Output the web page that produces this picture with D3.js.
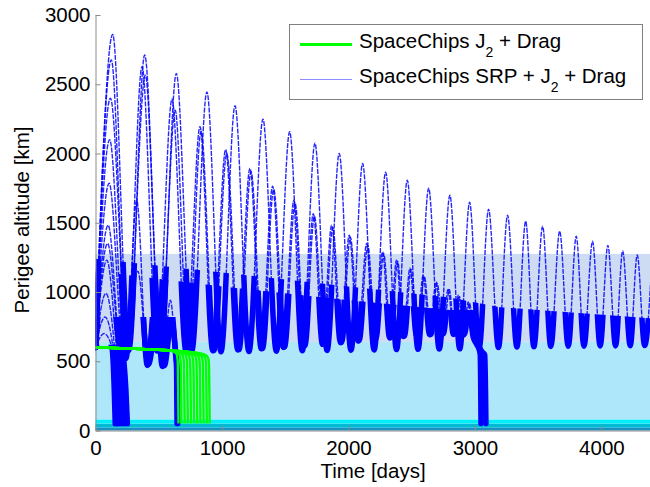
<!DOCTYPE html>
<html>
<head>
<meta charset="utf-8">
<title>Perigee altitude</title>
<script src="https://cdn.jsdelivr.net/npm/d3@7"></script>
<style>
    body { margin: 0; background: #fff; }
    svg { display: block; }
</style>
</head>
<body>
<div id="chart"></div>
<script>
// axis ticks
var xTicks = [0, 1000, 2000, 3000, 4000];
var yTicks = [0, 500, 1000, 1500, 2000, 2500, 3000];

// atmosphere layers behind the runs, km
var layerFrom = [0, 20, 50, 80, 640];
var layerTo = [20, 50, 80, 640, 1275];
var layerColors = ["#1b8ec3", "#00b9d2", "#00eefa", "#aee7fa", "#cddcf2"];

// below these altitudes the dense samples merge into a thick trace
var thickT = [0, 1000, 2000, 2800, 3200, 4400];
var thickAltA = [1240, 1140, 1040, 960, 890, 810];
var thickAltB = [1150, 1040, 940, 870, 870, 870];
var thickAltE = [820, 820, 820, 820, 820, 820];
var thickAltLow = [620, 620, 620, 620, 620, 620];

// SpaceChips SRP + J2 + Drag runs: [time (days), perigee altitude (km)]
var srpA = [[0,600],[136,2860],[262,576],[389,2711],[514,572],[639,2578],[760,570],[881,2445],[992,568],[1103,2345],[1213,570],[1324,2248],[1430,572],[1535,2157],[1635,575],[1735,2075],[1831,578],[1927,2000],[2020,580],[2112,1928],[2203,582],[2294,1865],[2380,584],[2465,1807],[2550,586],[2634,1750],[2718,588],[2802,1699],[2880,590],[2958,1648],[3033,594],[3108,1598],[3186,600],[3258,1554],[3332,603],[3401,1511],[3466,605],[3535,1475],[3600,607],[3670,1439],[3738,608],[3801,1402],[3862,609],[3930,1366],[3990,610],[4051,1337],[4112,611],[4168,1297],[4228,612],[4283,1268],[4342,613],[4400,1240]];
var srpB = [[0,600],[125,2675],[247,578],[368,2627],[487,574],[605,2393],[716,572],[826,2193],[928,576],[1029,2029],[1125,582],[1221,1892],[1311,590],[1400,1764],[1485,600],[1569,1663],[1646,610],[1722,1566],[1795,622],[1867,1482],[1937,634],[2006,1410],[2075,646],[2144,1350],[2207,658],[2270,1290],[2325,668],[2380,1230],[2433,678],[2486,1171],[2538,686],[2591,1120],[2642,692],[2692,1072],[2740,696],[2789,1024],[2829,694],[2868,976],[2908,690],[2947,928],[2985,680],[3015,620],[3035,580],[3042,545],[3048,50]];
var srpC = [[0,600],[118,2400],[255,580],[394,2566],[512,576],[630,2313],[732,574],[835,2160],[936,578],[1038,2000],[1134,584],[1230,1868],[1320,592],[1409,1742],[1494,602],[1578,1642],[1655,612],[1731,1548],[1804,624],[1876,1466],[1946,636],[2015,1396],[2084,648],[2153,1336],[2216,660],[2279,1278],[2334,670],[2389,1220],[2442,680],[2495,1162],[2547,688],[2600,1112],[2651,694],[2701,1064],[2750,698],[2798,1016],[2838,696],[2877,968],[2917,692],[2956,920],[2995,680],[3030,610],[3055,570],[3078,545],[3087,50]];
var srpD = [[0,600],[112,2100],[215,600],[240,300],[252,50]];
var srpE = [[0,600],[108,1785],[215,585],[240,520],[326,1663],[410,470],[478,1020],[528,462],[592,940],[632,560],[641,450],[645,50]];
var srpE2 = [[0,600],[96,1350],[192,595],[222,540],[335,1150],[418,478],[498,880],[545,468],[600,800],[636,540],[646,430],[650,50]];
var srpF = [[0,600],[100,1482],[185,600],[215,300],[228,50]];
var srpG = [[0,600],[90,1230],[165,600],[192,300],[204,50]];
var srpH = [[0,600],[82,990],[150,600],[174,300],[184,50]];
var srpI = [[0,600],[75,820],[138,600],[158,300],[168,50]];
var srpJ = [[0,600],[68,700],[130,600],[148,300],[156,50]];
var srpRuns = [srpA, srpB, srpC, srpD, srpE, srpE2, srpF, srpG, srpH, srpI, srpJ];
var srpThick = [thickAltA, thickAltB, thickAltB, thickAltLow, thickAltE, thickAltE, thickAltLow, thickAltLow, thickAltLow, thickAltLow, thickAltLow];

// SpaceChips J2 + Drag runs
var j2a = [[0,600],[200,594],[400,587],[560,579],[610,572],[640,555],[650,500],[656,50]];
var j2b = [[0,600],[200,594],[400,587],[600,577],[625,571],[660,553],[673,500],[680,50]];
var j2c = [[0,600],[200,594],[400,587],[600,577],[650,569],[685,551],[698,500],[705,50]];
var j2d = [[0,600],[200,594],[400,587],[600,577],[675,567],[710,549],[723,500],[730,50]];
var j2e = [[0,600],[200,594],[400,587],[600,577],[700,565],[735,547],[748,500],[755,50]];
var j2f = [[0,600],[200,594],[400,587],[600,577],[725,563],[760,545],[773,500],[780,50]];
var j2g = [[0,600],[200,594],[400,587],[600,577],[750,561],[785,543],[798,500],[805,50]];
var j2h = [[0,600],[200,594],[400,587],[600,577],[775,559],[810,541],[823,500],[830,50]];
var j2i = [[0,600],[200,594],[400,587],[600,577],[800,557],[835,539],[848,500],[855,50]];
var j2j = [[0,600],[200,594],[400,587],[600,577],[825,555],[860,537],[873,500],[880,50]];
var j2k = [[0,600],[200,594],[400,587],[600,577],[848,553],[883,535],[896,500],[903,50]];
var j2Runs = [j2a, j2b, j2c, j2d, j2e, j2f, j2g, j2h, j2i, j2j, j2k];

// legend text, split around the subscript
var legendParts = [["SpaceChips J", "2", " + Drag"], ["SpaceChips SRP + J", "2", " + Drag"]];

function init() {
    var w = 650;
    var h = 487;
    var left = 95.5, right = 652, top = 15, bottom = 430.5;
    var font = "'Liberation Sans', Arial, Helvetica, sans-serif";
    var fontSize = 20.5;

    var xScale = d3.scaleLinear()
        .domain([0, 4400])
        .range([left, right]);

    var yScale = d3.scaleLinear()
        .domain([0, 3000])
        .range([bottom, top]);

    var svg = d3.select("#chart")
        .append("svg")
        .attr("width", w)
        .attr("height", h)
        .style("font-family", font);

    var defs = svg.append("defs");
    defs.append("clipPath")
        .attr("id", "plotClip")
        .append("rect")
        .attr("x", left)
        .attr("y", top - 5)
        .attr("width", right - left)
        .attr("height", bottom - top + 5);

    // one clip polygon per thick-trace limit
    var limits = [thickAltA, thickAltB, thickAltE, thickAltLow];
    limits.forEach(function (alts, k) {
        var poly = [[xScale(thickT[0]), yScale(0)]];
        thickT.forEach(function (t, i) {
            poly.push([xScale(t), yScale(alts[i])]);
        });
        poly.push([xScale(thickT[thickT.length - 1]), yScale(0)]);
        defs.append("clipPath")
            .attr("id", "thickClip" + k)
            .append("polygon")
            .attr("points", poly.map(function (p) { return p.join(","); }).join(" "));
    });

    // atmosphere bands
    svg.selectAll("rect.layer")
        .data(d3.range(layerFrom.length))
        .enter()
        .append("rect")
        .attr("class", "layer")
        .attr("x", left)
        .attr("width", right - left)
        .attr("y", function (i) { return yScale(layerTo[i]); })
        .attr("height", function (i) { return yScale(layerFrom[i]) - yScale(layerTo[i]); })
        .attr("fill", function (i) { return layerColors[i]; });

    var line = d3.line()
        .x(function (d) { return xScale(d[0]); })
        .y(function (d) { return yScale(d[1]); })
        .curve(d3.curveMonotoneX);

    // SRP runs: thin trace everywhere, thick where samples pile up
    svg.append("g")
        .attr("clip-path", "url(#plotClip)")
        .selectAll("path")
        .data(srpRuns)
        .enter()
        .append("path")
        .attr("d", line)
        .attr("fill", "none")
        .attr("stroke", "#0000ff")
        .attr("stroke-opacity", 0.85)
        .attr("stroke-width", 1.4)
        .attr("stroke-dasharray", "5,1.2");

    var thickG = svg.append("g");
    srpRuns.forEach(function (run, i) {
        thickG.append("g")
            .attr("clip-path", "url(#thickClip" + limits.indexOf(srpThick[i]) + ")")
            .append("path")
            .attr("d", line(run))
            .attr("fill", "none")
            .attr("stroke", "#0000ff")
            .attr("stroke-width", 5.5)
            .attr("stroke-linejoin", "round")
            .attr("stroke-linecap", "round");
    });

    // J2 + drag runs
    svg.append("g")
        .attr("clip-path", "url(#plotClip)")
        .selectAll("path")
        .data(j2Runs)
        .enter()
        .append("path")
        .attr("d", line)
        .attr("fill", "none")
        .attr("stroke", "#00ff00")
        .attr("stroke-width", 2.4)
        .attr("stroke-linejoin", "round");

    // axes, MATLAB style ticks inside
    var xAxis = d3.axisBottom(xScale)
        .tickValues(xTicks)
        .tickFormat(d3.format("d"))
        .tickSizeInner(-5)
        .tickSizeOuter(0)
        .tickPadding(10);

    var yAxis = d3.axisLeft(yScale)
        .tickValues(yTicks)
        .tickFormat(d3.format("d"))
        .tickSizeInner(-5)
        .tickSizeOuter(0)
        .tickPadding(5);

    var gx = svg.append("g")
        .attr("transform", "translate(0," + bottom + ")")
        .call(xAxis);

    var gy = svg.append("g")
        .attr("transform", "translate(" + left + ",0)")
        .call(yAxis);

    [gx, gy].forEach(function (g) {
        g.attr("font-family", font).attr("font-size", fontSize);
        g.select(".domain").attr("stroke", "#8c8c8c");
        g.selectAll(".tick line").attr("stroke", "#8c8c8c");
        g.selectAll(".tick text").attr("fill", "#000");
    });

    svg.append("text")
        .attr("text-anchor", "middle")
        .attr("x", 373)
        .attr("y", 478)
        .attr("font-size", fontSize)
        .text("Time [days]");

    svg.append("text")
        .attr("text-anchor", "middle")
        .attr("transform", "translate(29,220) rotate(-90)")
        .attr("font-size", fontSize)
        .text("Perigee altitude [km]");

    // legend
    var legend = svg.append("g");
    legend.append("rect")
        .attr("x", 289.5)
        .attr("y", 24.5)
        .attr("width", 353)
        .attr("height", 75)
        .attr("fill", "#fff")
        .attr("stroke", "#808080");

    var rowY = [44.5, 79.5];
    var keyStroke = ["#00ff00", "#0000ff"];
    var keyWidth = [3, 1];
    var keyOpacity = [1, 0.45];

    legendParts.forEach(function (parts, i) {
        legend.append("line")
            .attr("x1", 300)
            .attr("x2", 352)
            .attr("y1", rowY[i])
            .attr("y2", rowY[i])
            .attr("stroke", keyStroke[i])
            .attr("stroke-width", keyWidth[i])
            .attr("stroke-opacity", keyOpacity[i]);

        var t = legend.append("text")
            .attr("x", 359)
            .attr("y", rowY[i] + 3)
            .attr("font-size", fontSize);
        t.append("tspan").text(parts[0]);
        t.append("tspan").attr("font-size", 14).attr("dy", 9).text(parts[1]);
        t.append("tspan").attr("dy", -9).text(parts[2]);
    });
}
window.onload = init;
</script>
</body>
</html>
